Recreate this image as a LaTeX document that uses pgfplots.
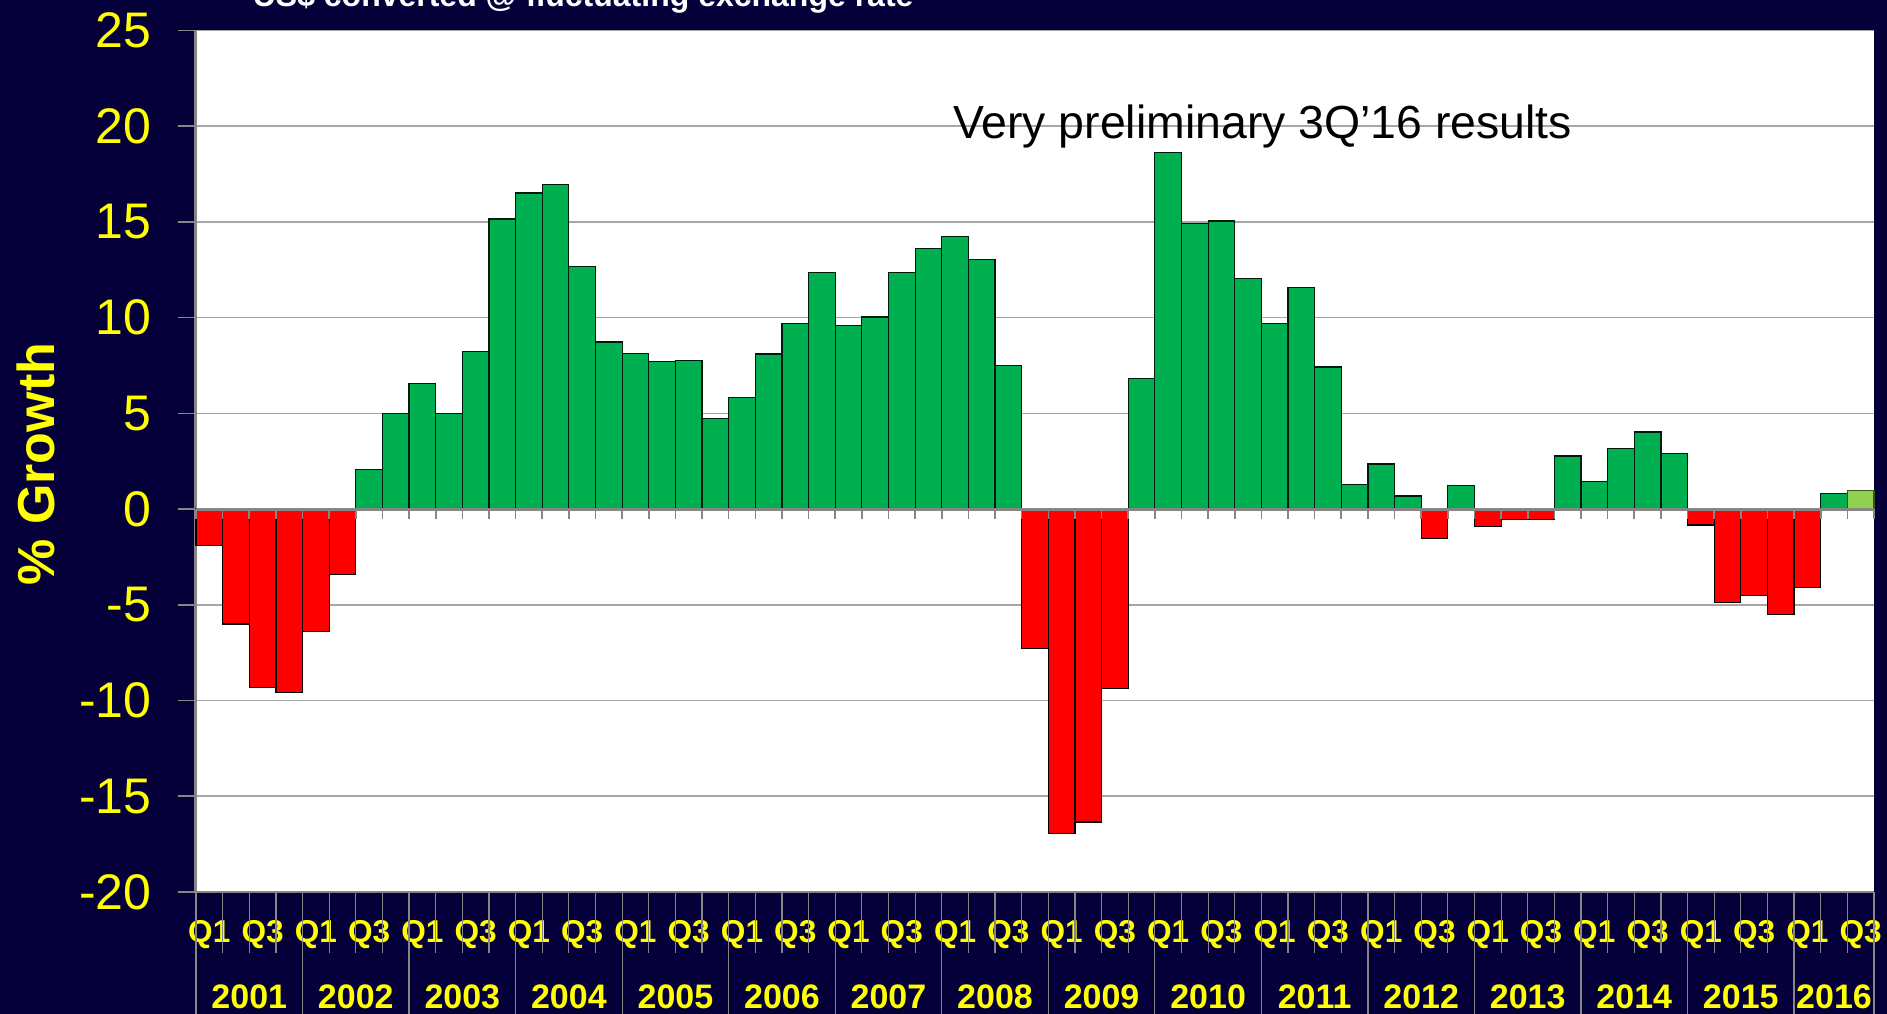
\documentclass[border=0pt]{standalone}
\usepackage{pgfplots}
\pgfplotsset{compat=1.18}
\usepackage{fontspec}
\setmainfont{Liberation Sans}
\definecolor{bgnavy}{RGB}{5,0,58}
\definecolor{bargreen}{RGB}{0,176,80}
\definecolor{barred}{RGB}{255,0,0}
\definecolor{lightgreen}{RGB}{146,208,80}
\definecolor{tickyellow}{RGB}{255,255,0}
\definecolor{gridgray}{RGB}{166,166,166}
\definecolor{axisgray}{RGB}{134,134,134}

\begin{document}
\begin{tikzpicture}
\useasboundingbox (0,0) rectangle (471.75pt,253.5pt);
\fill[bgnavy] (0,0) rectangle (471.75pt,253.5pt);
% title, mostly cut off by the page edge as in the original
\node[anchor=base west, inner sep=0pt, text=white, font=\fontsize{8}{9.6}\selectfont\bfseries]
  at (63pt,251.75pt) {US\$ converted @ fluctuating exchange rate};

\begin{axis}[
  at={(49pt,30.5pt)}, anchor=south west,
  scale only axis, width=419.5pt, height=215.4pt,
  xmin=-0.5, xmax=62.5, ymin=-20, ymax=25,
  ybar, bar width=1,
  clip=false,
  axis background/.style={fill=white},
  axis lines*=left,
  axis line style={-},
  x axis line style={draw=axisgray, line width=0.4pt},
  y axis line style={draw=axisgray, line width=0.75pt},
  ytick={-20,-15,...,25},
  ymajorgrids, grid style={draw=gridgray, line width=0.4pt},
  tick align=outside, major tick length=4.5pt,
  ytick style={draw=axisgray, line width=0.4pt},
  xtick style={draw=none},
  /pgf/number format/assume math mode=true,
  yticklabel style={text=tickyellow, font=\fontsize{12.5}{15}\selectfont,
    anchor=east, inner sep=0pt, xshift=-6.45pt},
  xtick={0,2,...,62},
  xticklabels={Q1,Q3,Q1,Q3,Q1,Q3,Q1,Q3,Q1,Q3,Q1,Q3,Q1,Q3,Q1,Q3,
               Q1,Q3,Q1,Q3,Q1,Q3,Q1,Q3,Q1,Q3,Q1,Q3,Q1,Q3,Q1,Q3},
  xticklabel style={text=tickyellow, font=\fontsize{7.9}{9.5}\selectfont\bfseries,
    anchor=base, inner sep=0pt, yshift=-8.25pt},
  extra x ticks={1.5,5.5,9.5,13.5,17.5,21.5,25.5,29.5,33.5,37.5,41.5,45.5,49.5,53.5,57.5,61},
  extra x tick labels={2001,2002,2003,2004,2005,2006,2007,2008,2009,2010,2011,2012,2013,2014,2015,2016},
  extra x tick style={tick style={draw=none},
    xticklabel style={yshift=-16.5pt, font=\fontsize{8.5}{10}\selectfont\bfseries}},
  ylabel={\% Growth},
  ylabel style={at={(axis description cs:-0.0956,0.4967)}, anchor=center,
    text=tickyellow, font=\fontsize{13}{15.6}\selectfont\bfseries},
]

% negative quarters
\addplot[ybar, bar shift=0pt, fill=barred, draw=black, line width=0.3pt] coordinates {
(0,-1.9)(1,-6.0)(2,-9.3)(3,-9.6)(4,-6.4)(5,-3.4)
(31,-7.28)(32,-16.95)(33,-16.35)(34,-9.37)
(46,-1.55)(48,-0.90)(49,-0.56)(50,-0.56)
(56,-0.83)(57,-4.87)(58,-4.52)(59,-5.50)(60,-4.10)
};
% positive quarters
\addplot[ybar, bar shift=0pt, fill=bargreen, draw=black!85!bargreen, line width=0.3pt] coordinates {
(6,2.05)(7,4.98)(8,6.57)(9,4.98)(10,8.23)(11,15.15)(12,16.51)(13,16.94)(14,12.65)(15,8.73)
(16,8.12)(17,7.69)(18,7.74)(19,4.72)(20,5.83)(21,8.10)(22,9.70)(23,12.36)(24,9.57)(25,10.03)
(26,12.36)(27,13.60)(28,14.24)(29,13.05)(30,7.51)
(35,6.80)(36,18.63)(37,14.92)(38,15.05)(39,12.06)(40,9.70)(41,11.57)(42,7.42)(43,1.30)(44,2.35)(45,0.68)
(47,1.23)(51,2.77)(52,1.46)(53,3.18)(54,4.02)(55,2.92)(61,0.82)
};
% preliminary 3Q'16
\addplot[ybar, bar shift=0pt, fill=lightgreen, draw=black!60!lightgreen, line width=0.3pt] coordinates {
(62,0.96)
};

\draw[axisgray, line width=0.75pt] (axis cs:-0.5,0) -- (axis cs:62.5,0);
\pgfplotsinvokeforeach{-0.5,0.5,...,62.5}{
  \draw[axisgray, line width=0.4pt] (axis cs:#1,0) -- ++(0pt,-2.5pt);
  \draw[axisgray, line width=0.3pt] (axis cs:#1,-20) -- ++(0pt,-15.25pt);
}
\pgfplotsinvokeforeach{-0.5,3.5,7.5,11.5,15.5,19.5,23.5,27.5,31.5,35.5,39.5,43.5,47.5,51.5,55.5,59.5,62.5}{
  \draw[axisgray, line width=0.3pt] (axis cs:#1,-20) -- ++(0pt,-32pt);
}

\node[anchor=base west, inner sep=0pt, font=\fontsize{11.6}{13.9}\selectfont]
  at (axis cs:27.9,19.33) {Very preliminary 3Q’16 results};
\end{axis}
\end{tikzpicture}
\end{document}
